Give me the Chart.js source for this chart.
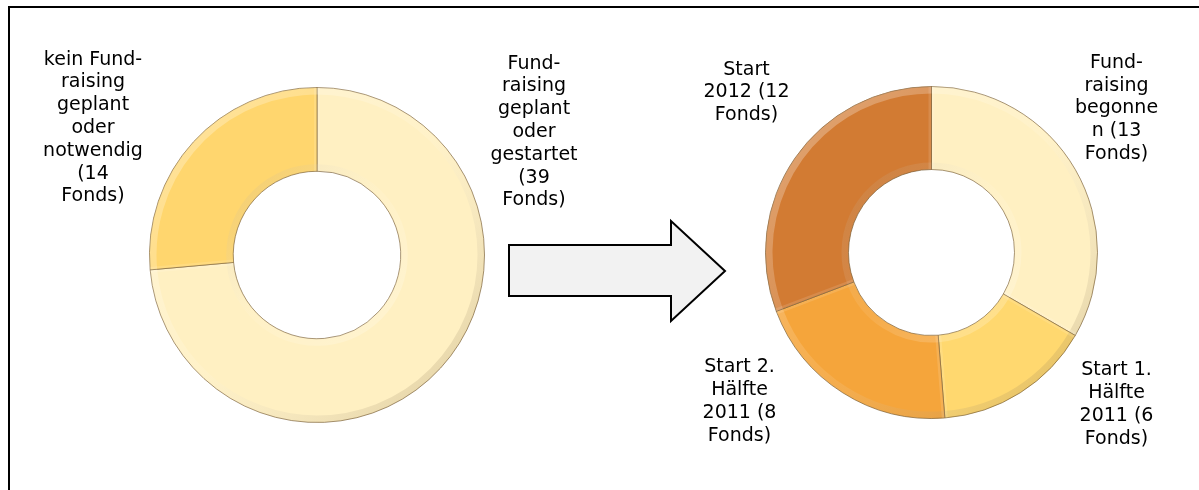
<!DOCTYPE html>
<html>
<head>
<meta charset="utf-8">
<script src="https://cdn.jsdelivr.net/npm/chart.js@4.4.1/dist/chart.umd.min.js"></script>
<style>
  html, body { margin: 0; padding: 0; background: #fff; }
  #page { position: relative; width: 1199px; height: 490px; overflow: hidden; }
  #frame { position: absolute; left: 8px; top: 6px; width: 1300px; height: 600px;
           border-left: 2px solid #000; border-top: 2px solid #000; }
  #arrow { position: absolute; left: 0; top: 0; }
  #chartLeft { position: absolute; left: 0; top: 0; }
  #chartRight { position: absolute; left: 620px; top: 0; }
</style>
</head>
<body>
<div id="page">
  <div id="frame"></div>
  <svg id="arrow" width="1199" height="490">
    <polygon points="509,245 671,245 671,221 725,271 671,321 671,296 509,296"
             fill="#f2f2f2" stroke="#000" stroke-width="2" stroke-linejoin="miter"/>
  </svg>
  <canvas id="chartLeft" width="620" height="490"></canvas>
  <canvas id="chartRight" width="579" height="490"></canvas>
</div>
<script>
// Linker Ring: Fundraising-Planung
const leftLabels = [
    ['Fund-', 'raising', 'geplant', 'oder', 'gestartet', '(39', 'Fonds)'],
    ['kein Fund-', 'raising', 'geplant', 'oder', 'notwendig', '(14', 'Fonds)']
];
const leftValues = [39, 14];
const leftColors = ['#fff0c2', '#ffd66e'];

// Rechter Ring: Start des Fundraisings
const rightLabels = [
    ['Fund-', 'raising', 'begonne', 'n (13', 'Fonds)'],
    ['Start 1.', 'Hälfte', '2011 (6', 'Fonds)'],
    ['Start 2.', 'Hälfte', '2011 (8', 'Fonds)'],
    ['Start', '2012 (12', 'Fonds)']
];
const rightValues = [13, 6, 8, 12];
const rightColors = ['#fff0c2', '#ffd86f', '#f5a53b', '#d27b33'];

// Position der Beschriftungen relativ zum Ringmittelpunkt
const leftLabelOffsets = [[217, -123], [-224, -127]];
const rightLabelOffsets = [[185, -144], [185, 152], [-192, 149], [-185, -160]];

const LINE_HEIGHT = 22.8;

// Beschriftungen als mehrzeiliger Text
const labelPlugin = {
    id: 'blockLabels',
    afterDatasetsDraw(chart, args, opts) {
        const ctx = chart.ctx;
        const arcs = chart.getDatasetMeta(0).data;
        ctx.save();
        ctx.font = '19px "DejaVu Sans", Verdana, sans-serif';
        ctx.fillStyle = '#000';
        ctx.textAlign = 'center';
        ctx.textBaseline = 'middle';
        arcs.forEach((arc, i) => {
            const lines = chart.data.labels[i];
            const [dx, dy] = opts.offsets[i];
            const top = arc.y + dy - (lines.length - 1) * LINE_HEIGHT / 2;
            lines.forEach((line, j) => ctx.fillText(line, arc.x + dx, top + j * LINE_HEIGHT));
        });
        ctx.restore();
    }
};

// Abgerundete Kanten (Bevel-Effekt) wie im Original
const bevelPlugin = {
    id: 'bevel',
    afterDatasetsDraw(chart) {
        const ctx = chart.ctx;
        chart.getDatasetMeta(0).data.forEach(arc => {
            const { x, y, startAngle, endAngle, innerRadius, outerRadius } = arc;
            ctx.save();
            ctx.beginPath();
            ctx.arc(x, y, outerRadius, startAngle, endAngle);
            ctx.arc(x, y, innerRadius, endAngle, startAngle, true);
            ctx.closePath();
            ctx.clip();

            const r = outerRadius;
            const light = ctx.createLinearGradient(x - r, y - r, x + r, y + r);
            light.addColorStop(0, 'rgba(255,255,255,0.35)');
            light.addColorStop(0.5, 'rgba(255,255,255,0.1)');
            light.addColorStop(1, 'rgba(90,60,10,0.22)');
            const dark = ctx.createLinearGradient(x - r, y - r, x + r, y + r);
            dark.addColorStop(0, 'rgba(90,60,10,0.28)');
            dark.addColorStop(0.5, 'rgba(255,255,255,0.08)');
            dark.addColorStop(1, 'rgba(255,255,255,0.4)');

            // äußere Kante
            ctx.lineWidth = 8;
            ctx.strokeStyle = light;
            ctx.beginPath();
            ctx.arc(x, y, outerRadius - 3, startAngle, endAngle);
            ctx.stroke();

            // innere Kante
            ctx.strokeStyle = dark;
            ctx.beginPath();
            ctx.arc(x, y, innerRadius + 3, startAngle, endAngle);
            ctx.stroke();

            // seitliche Kanten
            ctx.lineWidth = 6;
            ctx.strokeStyle = 'rgba(255,255,255,0.12)';
            [startAngle, endAngle].forEach(a => {
                ctx.beginPath();
                ctx.moveTo(x + Math.cos(a) * innerRadius, y + Math.sin(a) * innerRadius);
                ctx.lineTo(x + Math.cos(a) * outerRadius, y + Math.sin(a) * outerRadius);
                ctx.stroke();
            });
            ctx.restore();
        });
    }
};

const createRingConfig = (labels, values, colors, offsets, padding) => ({
    type: 'doughnut',
    data: {
        labels: labels,
        datasets: [{
            data: values,
            backgroundColor: colors,
            borderColor: 'rgba(100,70,25,0.6)',
            borderWidth: 1
        }]
    },
    options: {
        responsive: false,
        animation: false,
        cutout: '50%',
        layout: { padding: padding },
        plugins: {
            legend: { display: false },
            tooltip: { enabled: false },
            blockLabels: { offsets: offsets }
        }
    },
    plugins: [bevelPlugin, labelPlugin]
});

new Chart(document.getElementById('chartLeft'),
    createRingConfig(leftLabels, leftValues, leftColors, leftLabelOffsets,
        { left: 149, right: 135, top: 87, bottom: 67 }));

new Chart(document.getElementById('chartRight'),
    createRingConfig(rightLabels, rightValues, rightColors, rightLabelOffsets,
        { left: 145, right: 101, top: 86, bottom: 71 }));
</script>
</body>
</html>
